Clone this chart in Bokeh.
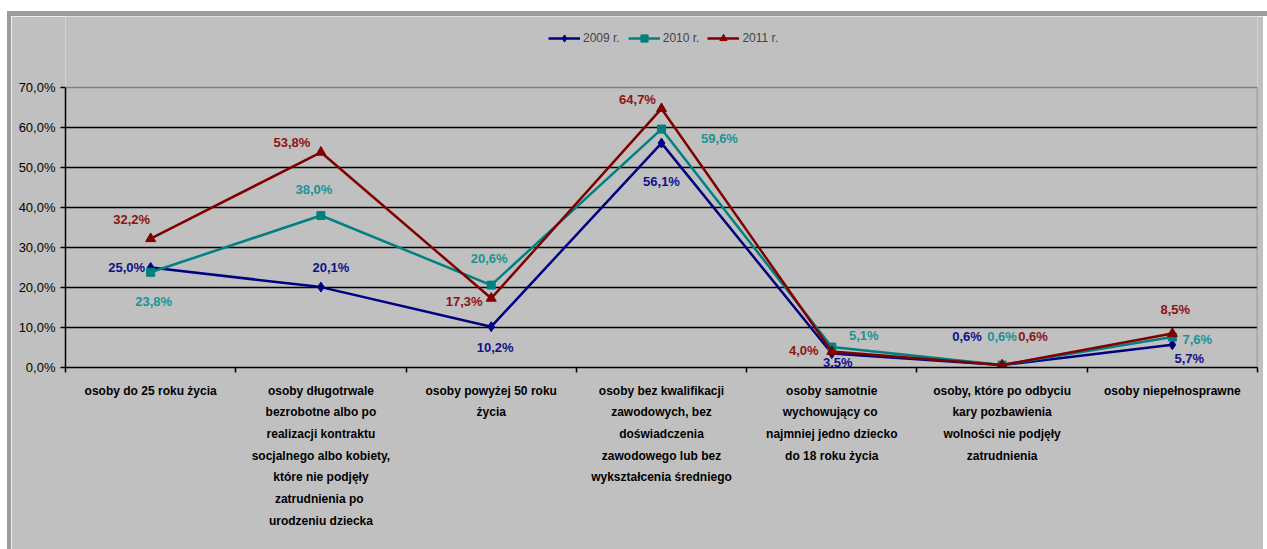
from bokeh.plotting import figure
from bokeh.models import (ColumnDataSource, FixedTicker, CustomJSTickFormatter, Legend,
                          LegendItem, Range1d, Spacer, LabelSet, Span)
from bokeh.layouts import column
from bokeh.embed import file_html
from bokeh.resources import INLINE
from bokeh.core.properties import value

categories = [
    "osoby do 25 roku życia",
    "osoby długotrwale\nbezrobotne albo po\nrealizacji kontraktu\nsocjalnego albo kobiety,\nktóre nie podjęły\nzatrudnienia  po\nurodzeniu dziecka",
    "osoby powyżej 50 roku\nżycia",
    "osoby bez kwalifikacji\nzawodowych, bez\ndoświadczenia\nzawodowego lub bez\nwykształcenia średniego",
    "osoby samotnie\nwychowujący  co\nnajmniej jedno dziecko\ndo 18 roku życia",
    "osoby, które po odbyciu\nkary pozbawienia\nwolności nie podjęły\nzatrudnienia",
    "osoby niepełnosprawne",
]
series_names = ["2009 r.", "2010 r.", "2011 r."]
v2009 = [25.0, 20.1, 10.2, 56.1, 3.5, 0.6, 5.7]
v2010 = [23.8, 38.0, 20.6, 59.6, 5.1, 0.6, 7.6]
v2011 = [32.2, 53.8, 17.3, 64.7, 4.0, 0.6, 8.5]
y_ticks = [0, 10, 20, 30, 40, 50, 60, 70]

# styles
colors = ["#000080", "#008080", "#800000"]
label_colors = ["#10108C", "#1A9494", "#8C1414"]
markers = ["diamond", "square", "triangle"]
msizes = [10, 8, 10]
# label offsets in screen px (dx right, dy down)
dx = [
    [-24, 10, 4, 0, 6, -35, 17],
    [3, -7, -2, 58, 32, 0, 25],
    [-19, -29, -27, -24, -28, 31, 3],
]
dy = [
    [0, -20, 21, 38, 9, -29, 14],
    [29, -26, -27, 9, -12, -29, 2],
    [-19, -10, 3, -9, -1, -29, -24],
]

BG = "#C0C0C0"
EDGE = "#9C9C9C"
FRAME_EDGE = "#808080"

PAGE_W = 1267
OFF_X, EDGE_W = 7, 4
W, H = PAGE_W - OFF_X - EDGE_W, 533
LEFT, RIGHT, BOTTOM = 54, 10, 182
PLOT_H = 280  # pixel height of the 0..70 % band
frame_h = H - BOTTOM
y_top = y_ticks[-1] * frame_h / PLOT_H  # room above 70 % for the legend

xs = [i + 0.5 for i in range(len(categories))]
boundaries = list(range(len(categories) + 1))

p = figure(width=W, height=H, x_range=Range1d(0, len(categories)),
           y_range=Range1d(y_ticks[0], y_top),
           output_backend="svg", toolbar_location=None,
           min_border_left=LEFT, min_border_right=RIGHT, min_border_top=0, min_border_bottom=BOTTOM,
           background_fill_color=BG, border_fill_color=BG,
           outline_line_color=None)
p.margin = (0, 0, 0, OFF_X)
p.styles = {"border-left": f"{EDGE_W}px solid {EDGE}"}

p.xgrid.visible = False
p.ygrid.ticker = FixedTicker(ticks=y_ticks[1:-1])
p.ygrid.grid_line_color = "#000000"
p.ygrid.grid_line_width = 1.5

# plot-area border at top (70 %) and right side
p.add_layout(Span(location=y_ticks[-1], dimension="width", line_color=FRAME_EDGE, line_width=1.5))
p.segment(x0=[len(categories)], y0=[y_ticks[0]], x1=[len(categories)], y1=[y_ticks[-1]],
          line_color=FRAME_EDGE, line_width=1.5)

# y axis
p.yaxis.bounds = (y_ticks[0], y_ticks[-1])
p.yaxis.ticker = FixedTicker(ticks=y_ticks)
p.yaxis.formatter = CustomJSTickFormatter(code="return tick.toFixed(1).replace('.', ',') + '%';")
p.yaxis.major_tick_in = 0
p.yaxis.major_tick_out = 5
p.yaxis.minor_tick_line_color = None
p.yaxis.axis_line_width = 1.5
p.yaxis.major_tick_line_width = 1.5
p.yaxis.major_label_text_font = "Liberation Sans"
p.yaxis.major_label_text_font_size = "13px"
p.yaxis.major_label_text_color = "#000000"
p.yaxis.major_label_standoff = 5

# x axis: labels at category centres, ticks at category boundaries
p.xaxis.ticker = FixedTicker(ticks=xs, minor_ticks=boundaries)
p.xaxis.major_label_overrides = {x: c for x, c in zip(xs, categories)}
p.xaxis.major_tick_in = 0
p.xaxis.major_tick_out = 0
p.xaxis.minor_tick_in = 0
p.xaxis.minor_tick_out = 5
p.xaxis.minor_tick_line_width = 1.5
p.xaxis.axis_line_width = 1.5
p.xaxis.major_label_text_font = "Liberation Sans"
p.xaxis.major_label_text_font_style = "bold"
p.xaxis.major_label_text_font_size = "12px"
p.xaxis.major_label_text_color = "#000000"
p.xaxis.major_label_text_line_height = 1.55
p.xaxis.major_label_standoff = 11

items = []
for k, vals in enumerate([v2009, v2010, v2011]):
    labels = [f"{v:.1f}".replace(".", ",") + "%" for v in vals]
    src = ColumnDataSource(dict(x=xs, y=vals, lab=labels,
                                dx=dx[k], dy=[-d for d in dy[k]]))
    ln = p.line("x", "y", source=src, line_color=colors[k], line_width=2.5)
    sc = p.scatter("x", "y", source=src, marker=markers[k], size=msizes[k],
                   fill_color=colors[k], line_color=colors[k])
    ls = LabelSet(x="x", y="y", text="lab", source=src, x_offset="dx", y_offset="dy",
                  text_align="center", text_baseline="middle",
                  text_font=value("Liberation Sans"), text_font_style="bold",
                  text_font_size="13px", text_color=label_colors[k])
    p.add_layout(ls)
    items.append(LegendItem(label=series_names[k], renderers=[ln, sc]))

legend = Legend(items=items, orientation="horizontal", location=(483, 320),
                background_fill_alpha=0, border_line_color=None,
                label_text_font="Liberation Sans", label_text_font_size="12px",
                glyph_width=32, glyph_height=18, label_standoff=3, spacing=8,
                padding=0, margin=0)
p.add_layout(legend, "center")

top_edge = Spacer(width=PAGE_W - OFF_X, height=5, styles={"background-color": EDGE})
top_edge.margin = (0, 0, 0, OFF_X)

layout = column(Spacer(width=PAGE_W, height=11), top_edge, p, spacing=0)

open("out.html", "w").write(file_html(layout, INLINE))
